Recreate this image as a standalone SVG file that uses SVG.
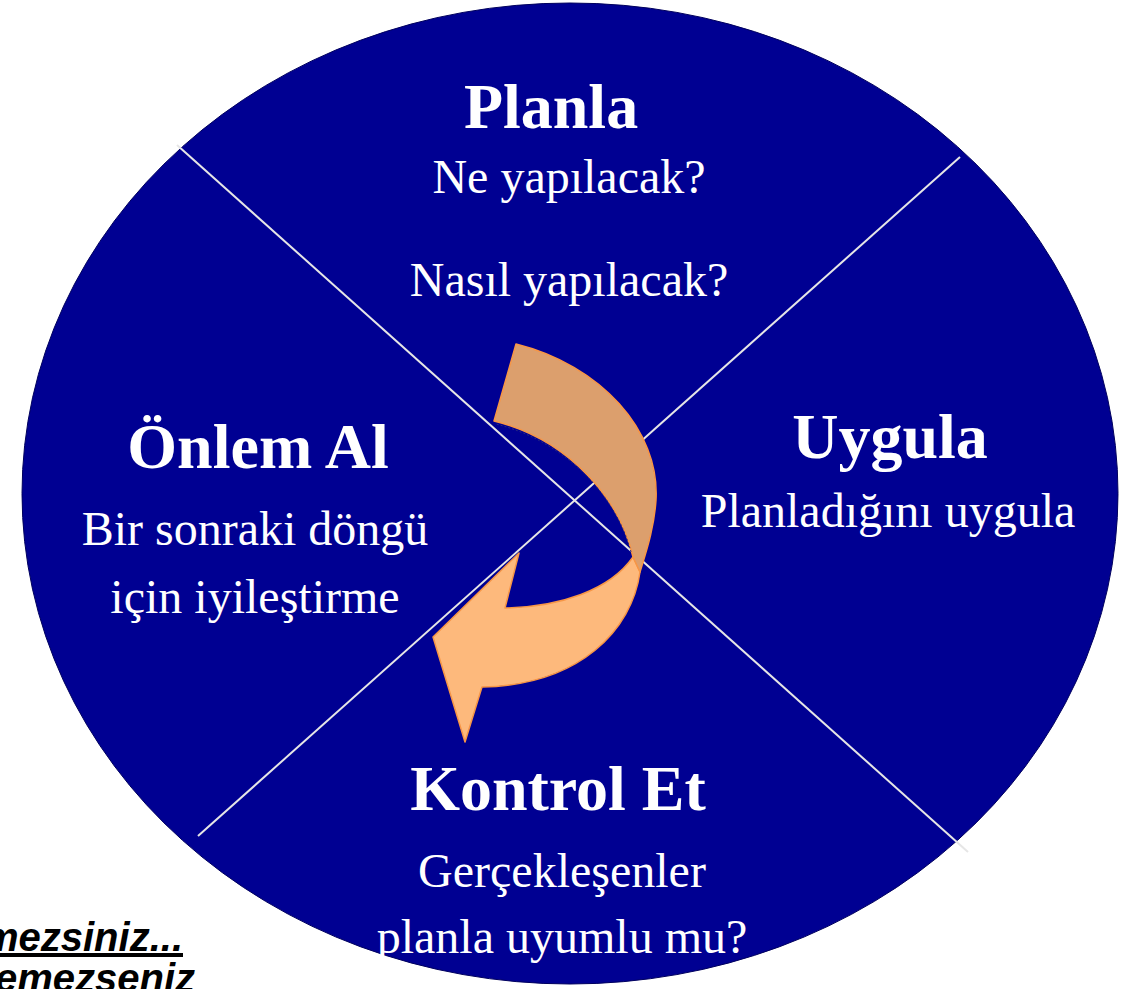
<svg xmlns="http://www.w3.org/2000/svg" width="1130" height="989" viewBox="0 0 1130 989">
<style>
.t{font-family:"Liberation Serif","Times New Roman",serif;fill:#fff;text-anchor:middle}
.h{font-size:64px;font-weight:bold}
.b{font-size:48px}
.div{stroke:#e6e6e6;stroke-width:2;fill:none}
.note{font-family:"Liberation Sans",Arial,sans-serif;font-size:40px;font-weight:bold;font-style:italic;fill:#000;text-anchor:end}
</style>
<rect width="1130" height="989" fill="#fff"/>
<g id="circle">
<ellipse cx="570" cy="493.5" rx="548" ry="490.5" fill="#000092" stroke="#00005e" stroke-width="1"/>
</g>
<g id="connectors">
<line class="div" x1="177" y1="145" x2="968" y2="852"/>
<line class="div" x1="960" y1="157" x2="198" y2="836"/>
</g>
<g id="arrow" stroke="#f79646" stroke-width="1.5" stroke-linejoin="round">
<path d="M640,572 C632,630 580,685 482,687 L465,742 L433,637 L519,553 L505,608 C560,607 610,590 633,557 Z" fill="#fdb97c"/>
<path d="M516,344 C600,365 660,430 656,500 C654,530 645,555 640,572 L633,557 C620,500 570,440 494,421 Z" fill="#dc9f6d"/>
<path d="M631,552 C617,498 568,442 496,424" fill="none" stroke="#2a2a80" stroke-width="1" stroke-dasharray="2 2"/>
</g>
<g id="planla">
<text class="t h" x="551" y="128">Planla</text>
<text class="t b" x="569" y="193">Ne yapılacak?</text>
<text class="t b" x="569" y="296">Nasıl yapılacak?</text>
</g>
<g id="uygula">
<text class="t h" x="890" y="458">Uygula</text>
<text class="t b" x="888" y="527">Planladığını uygula</text>
</g>
<g id="kontrol">
<text class="t h" x="558" y="810">Kontrol Et</text>
<text class="t b" x="562" y="887">Gerçekleşenler</text>
<text class="t b" x="562" y="953">planla uyumlu mu?</text>
</g>
<g id="onlem">
<text class="t h" x="258" y="468">Önlem Al</text>
<text class="t b" x="255" y="545">Bir sonraki döngü</text>
<text class="t b" x="255" y="613">için iyileştirme</text>
</g>
<g id="note">
<text class="note" x="183" y="951" text-decoration="underline">mezsiniz...</text>
<text class="note" x="195" y="992">remezseniz</text>
</g>
</svg>
